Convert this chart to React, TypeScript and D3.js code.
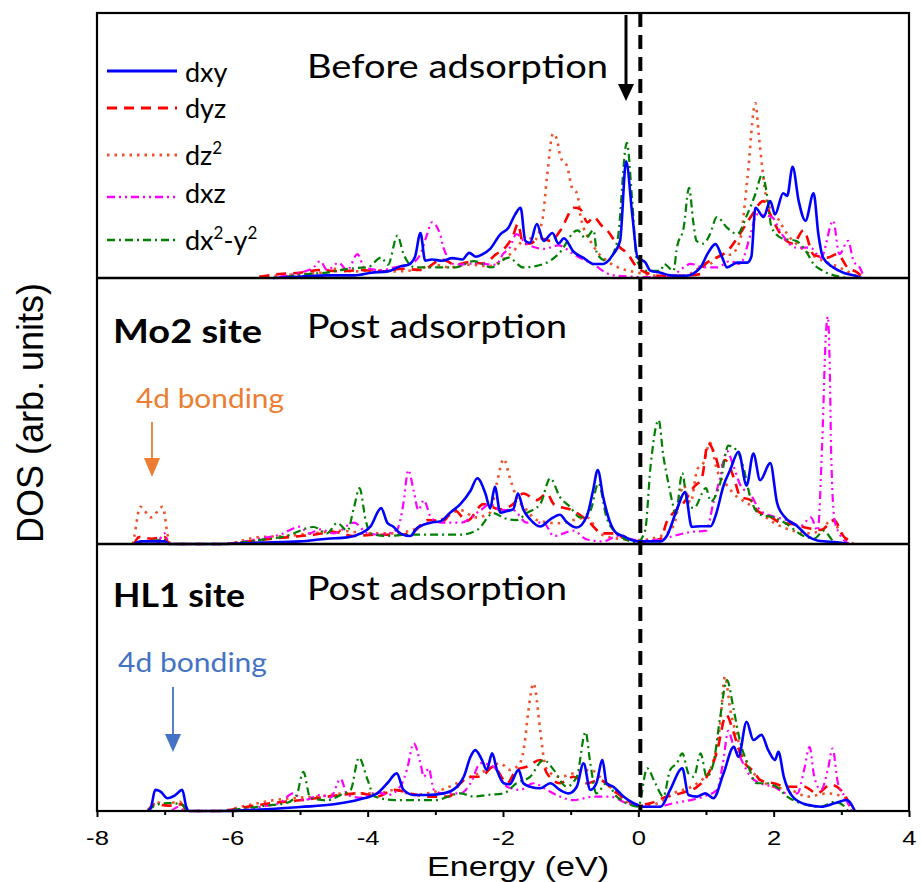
import { useEffect, useRef } from "react";
import * as d3 from "d3";

type Pt = [number, number];

// [energy (eV), DOS (arb. units, 0-100 = full panel height)]
const beforeDxy: Pt[] = [[-5.4,0],[-5.0,0.5],[-4.6,1],[-4.2,1],[-3.95,2],[-3.7,2.5],[-3.5,4.5],[-3.4,5],[-3.3,8],[-3.22,17],[-3.15,6.5],[-3.05,7],[-2.9,6.5],[-2.75,7.5],[-2.6,7],[-2.5,9.5],[-2.4,8],[-2.3,9],[-2.19,11],[-2.04,16.5],[-1.92,19],[-1.82,24],[-1.74,26.5],[-1.67,14],[-1.6,13.3],[-1.5,20.4],[-1.4,14],[-1.27,17],[-1.18,13],[-1.1,15],[-0.96,10],[-0.81,7.6],[-0.66,5.3],[-0.52,5.3],[-0.37,9],[-0.27,14],[-0.18,44],[-0.09,24],[-0.01,7.6],[0.1,6],[0.18,2.7],[0.33,2],[0.47,1],[0.7,0.8],[0.92,4],[1.02,9],[1.14,12.8],[1.24,7.7],[1.31,4],[1.46,5.8],[1.61,5.8],[1.67,8],[1.73,26.5],[1.85,23],[1.95,29],[2.02,24],[2.14,32],[2.2,31],[2.28,42],[2.37,29],[2.47,21.6],[2.59,32],[2.66,16.6],[2.73,7.7],[2.88,4],[3.03,2],[3.24,0.6],[3.3,0]];
const beforeDyz: Pt[] = [[-5.6,0.5],[-5.3,1.5],[-5.0,2],[-4.7,3],[-4.4,2.5],[-4.1,3],[-3.8,2.5],[-3.5,3.5],[-3.2,3],[-2.9,7],[-2.7,5],[-2.5,6],[-2.3,5.5],[-2.1,9],[-1.95,12],[-1.85,16],[-1.78,20.4],[-1.7,12.8],[-1.6,13],[-1.45,15],[-1.3,14],[-1.15,18],[-0.95,26.5],[-0.86,26],[-0.75,21],[-0.66,23],[-0.55,20],[-0.46,18],[-0.35,14],[-0.27,11.5],[-0.17,9.5],[-0.02,4],[0.12,2],[0.33,0.8],[0.6,0.8],[0.92,1.5],[0.96,4.5],[1.16,7.7],[1.31,10],[1.5,16.6],[1.66,23],[1.85,29],[1.95,24],[2.1,16.6],[2.29,13],[2.44,18],[2.59,8.8],[2.79,7.7],[2.94,9],[3.09,4],[3.24,2],[3.32,0]];
const beforeDz2: Pt[] = [[-5.6,0.5],[-5.3,1],[-5.0,1.5],[-4.7,2],[-4.5,3.5],[-4.2,2.5],[-3.9,3],[-3.6,2.5],[-3.3,3],[-3.0,5],[-2.8,4],[-2.5,5],[-2.2,4.5],[-2.0,7],[-1.85,10],[-1.75,13],[-1.64,16],[-1.55,14],[-1.42,21.6],[-1.35,38],[-1.26,54.5],[-1.2,52],[-1.15,45.6],[-1.05,42],[-0.98,34],[-0.9,31.7],[-0.86,24],[-0.81,19],[-0.71,14],[-0.61,10],[-0.46,6.4],[-0.3,4],[-0.1,2.5],[0.1,1.5],[0.4,0.5],[0.7,1],[0.92,4],[1.1,6],[1.2,8.8],[1.36,8.8],[1.5,14],[1.61,37],[1.73,66],[1.78,54],[1.83,42],[1.9,29],[2.05,23],[2.2,16.6],[2.4,11.5],[2.63,7.7],[2.97,4],[3.28,0]];
const beforeDxz: Pt[] = [[-5.3,0.5],[-5.0,2],[-4.8,4],[-4.7,6.4],[-4.6,3],[-4.43,5.7],[-4.3,3],[-4.15,9],[-4.05,4],[-3.8,3],[-3.6,4],[-3.37,5.3],[-3.22,9],[-3.12,16.6],[-3.05,21],[-2.93,16.6],[-2.88,11.5],[-2.7,5],[-2.4,5.5],[-2.1,5],[-2.0,9],[-1.9,11.5],[-1.8,16.6],[-1.66,13],[-1.4,11],[-1.18,12.3],[-0.96,9],[-0.66,5],[-0.4,1.2],[-0.1,0.5],[0.2,0.3],[0.47,0.5],[0.67,4],[0.77,5.3],[0.96,4],[1.16,4],[1.36,6.4],[1.5,5.3],[1.66,16.6],[1.75,24],[1.97,23],[2.12,16.6],[2.33,11.5],[2.54,11.5],[2.7,7.7],[2.88,21.6],[2.97,9],[3.1,14],[3.18,6.4],[3.27,4],[3.34,0]];
const beforeDx2y2: Pt[] = [[-5.2,0.5],[-4.9,1.5],[-4.6,2],[-4.4,3],[-4.15,3.8],[-4.0,4],[-3.8,7.7],[-3.7,5],[-3.56,16],[-3.47,9],[-3.3,4],[-3.0,4],[-2.7,4],[-2.43,6.4],[-2.17,4],[-1.92,7.7],[-1.7,4],[-1.4,5.3],[-1.18,9],[-0.9,18],[-0.78,15],[-0.66,18],[-0.61,9],[-0.46,6.4],[-0.31,14],[-0.17,51],[-0.09,29],[-0.02,6.4],[0.13,2.7],[0.33,2.7],[0.38,5.3],[0.52,2.7],[0.57,11.5],[0.67,19],[0.75,34],[0.81,21.6],[0.86,14],[0.96,13],[1.06,16.6],[1.16,23],[1.31,19],[1.46,16.6],[1.61,24],[1.73,31.7],[1.83,39],[1.9,31.7],[1.97,19],[2.12,15],[2.33,14],[2.48,10],[2.59,5.3],[2.73,2.7],[2.97,0.5],[3.1,0]];

const mo2Dxy: Pt[] = [[-7.45,0],[-7.35,1],[-7.0,1],[-6.93,0],[-6.15,0],[-5.6,0.5],[-5.0,1],[-4.6,2],[-4.3,2.5],[-4.1,4],[-3.96,6.5],[-3.8,13.5],[-3.71,8],[-3.62,6.5],[-3.52,4],[-3.37,3],[-3.27,6],[-3.07,8],[-2.92,8.6],[-2.78,11.8],[-2.63,15],[-2.48,20],[-2.38,24.7],[-2.26,19],[-2.19,13.4],[-2.12,21.5],[-2.04,11.8],[-1.94,12.4],[-1.85,13],[-1.78,19],[-1.7,13],[-1.6,9.3],[-1.45,6.6],[-1.3,9.3],[-1.16,11],[-1.06,8.3],[-0.91,6.2],[-0.76,10.5],[-0.67,20],[-0.6,27.8],[-0.52,17.7],[-0.42,8.3],[-0.32,4],[-0.22,3],[-0.12,1.7],[0.0,1],[0.33,1],[0.42,3],[0.57,13],[0.69,19.5],[0.79,6.4],[0.92,6.7],[1.07,6.7],[1.14,10.5],[1.26,22],[1.36,28],[1.48,34.7],[1.6,22],[1.7,34],[1.8,24],[1.95,30.4],[2.05,15.5],[2.15,10.5],[2.35,6.7],[2.5,3],[2.66,1.2],[3.0,0.5],[3.1,0]];
const mo2Dyz: Pt[] = [[-7.45,0],[-7.38,2.6],[-7.2,2],[-7.0,2.6],[-6.93,0],[-6.15,0],[-5.6,1.5],[-5.2,2.5],[-4.8,3.5],[-4.5,4.5],[-4.2,3],[-3.9,3.5],[-3.5,3.5],[-3.3,5],[-3.12,9],[-2.88,8.7],[-2.73,13],[-2.53,8.7],[-2.29,15],[-2.04,13],[-1.85,15],[-1.7,19],[-1.5,16.5],[-1.35,19],[-1.25,15],[-0.96,12.5],[-0.76,9],[-0.52,4],[-0.37,4],[-0.15,1.5],[0.1,1],[0.33,2],[0.42,8.3],[0.52,11.8],[0.67,15.5],[0.82,21.4],[0.94,25],[1.03,38],[1.14,33],[1.21,27.8],[1.28,31.6],[1.41,25],[1.51,17.7],[1.66,16.5],[1.75,12.7],[1.95,10.3],[2.1,8],[2.3,7.4],[2.5,6],[2.7,5.3],[2.89,9],[3.03,3],[3.18,0]];
const mo2Dz2: Pt[] = [[-7.47,0],[-7.45,2.6],[-7.36,14],[-7.2,10],[-7.03,14],[-6.95,2.6],[-6.92,0],[-6.15,0],[-5.6,2.6],[-5.2,3],[-4.8,4],[-4.4,5],[-4.0,4],[-3.6,4],[-3.37,5],[-3.1,8],[-2.88,9.5],[-2.63,12.7],[-2.4,10],[-2.19,11.8],[-2.09,23],[-1.99,32],[-1.9,25],[-1.8,17.7],[-1.65,12.7],[-1.5,9],[-1.16,7.8],[-0.96,9],[-0.76,10],[-0.57,4],[-0.3,2],[0.0,1.5],[0.33,3],[0.52,6.8],[0.67,22],[0.77,15.5],[0.87,28],[0.96,30.4],[1.06,38],[1.16,28],[1.31,22],[1.46,17.7],[1.6,15.5],[1.8,11.8],[2.0,8],[2.25,5.3],[2.5,4],[2.7,5],[2.85,9],[3.0,4],[3.18,0]];
const mo2Dxz: Pt[] = [[-7.1,0],[-7.0,4],[-6.93,0],[-6.15,0],[-5.6,2],[-5.3,3.5],[-5.0,6.5],[-4.87,4],[-4.7,5.5],[-4.5,4],[-4.2,8],[-4.0,4],[-3.8,3.5],[-3.57,5.3],[-3.47,15.5],[-3.4,27.8],[-3.32,20],[-3.25,12.7],[-3.17,16.5],[-3.07,10.3],[-2.92,8],[-2.63,8],[-2.33,12.7],[-2.19,15],[-2.04,12.7],[-1.85,12.7],[-1.65,8],[-1.4,8],[-1.25,3],[-0.96,5],[-0.76,1.7],[-0.52,1],[-0.3,3],[-0.02,1.5],[0.3,1.5],[0.52,3],[0.77,4.5],[1.0,5],[1.11,15.5],[1.21,25],[1.31,35],[1.41,29],[1.51,22],[1.66,18.5],[1.8,12.7],[2.0,10.3],[2.2,9],[2.4,6.8],[2.55,10],[2.65,5],[2.72,40],[2.77,78],[2.8,85.5],[2.83,65],[2.85,34],[2.9,9],[2.97,4],[3.12,0]];
const mo2Dx2y2: Pt[] = [[-7.45,0],[-7.3,1],[-7.0,1.5],[-6.93,0],[-6.15,0],[-5.6,1.5],[-5.2,3],[-4.8,6.4],[-4.6,4],[-4.45,7.9],[-4.3,5],[-4.2,14],[-4.12,21],[-4.03,9],[-3.96,4],[-3.72,3],[-3.4,3.5],[-3.0,3.5],[-2.63,3.5],[-2.38,5.3],[-2.14,11.6],[-1.99,9.8],[-1.8,9],[-1.65,11.6],[-1.45,15],[-1.3,24.7],[-1.16,17.7],[-1.01,14],[-0.86,10],[-0.71,12.5],[-0.59,22.8],[-0.47,10],[-0.32,4],[-0.17,1.5],[-0.02,0.5],[0.1,5],[0.18,29],[0.3,46.6],[0.37,33],[0.42,26],[0.5,16],[0.55,11],[0.65,26.7],[0.72,16],[0.82,13.5],[1.0,21],[1.07,16],[1.21,23],[1.33,37],[1.46,35],[1.56,28],[1.65,18],[1.8,11],[2.0,10],[2.2,7.4],[2.4,3.6],[2.6,2],[2.74,5],[2.89,1],[3.1,0]];

const hl1Dxy: Pt[] = [[-7.24,0],[-7.2,1.5],[-7.14,7.9],[-7.06,7.3],[-6.96,4.8],[-6.84,6],[-6.74,7.9],[-6.68,1.5],[-6.64,0],[-6.2,0],[-5.6,0.5],[-5.0,1.5],[-4.5,2.5],[-4.1,4.5],[-3.86,6.6],[-3.71,10.4],[-3.57,14.1],[-3.47,7.9],[-3.32,6],[-3.12,6],[-2.88,6.6],[-2.68,9.1],[-2.58,12.8],[-2.48,20.3],[-2.41,22.8],[-2.31,19.1],[-2.24,15.4],[-2.16,21.6],[-2.09,15.4],[-1.99,10.4],[-1.9,10],[-1.77,15.4],[-1.7,10.4],[-1.6,9.1],[-1.45,8.5],[-1.3,10.4],[-1.16,7.9],[-1.03,6.6],[-0.91,9.1],[-0.81,17.9],[-0.71,7.9],[-0.62,10.4],[-0.53,19.1],[-0.47,10.4],[-0.37,9.1],[-0.22,5.4],[-0.07,2.9],[0.08,1.6],[0.33,1.6],[0.47,7.9],[0.65,16],[0.74,6],[0.87,5.4],[0.99,6.6],[1.11,4.8],[1.26,14.1],[1.41,24],[1.48,20.3],[1.6,33.4],[1.7,26.6],[1.82,28.5],[1.92,22.8],[2.02,19.1],[2.07,22.2],[2.15,12.8],[2.3,4.8],[2.5,2.3],[2.7,1.6],[2.9,2.9],[3.08,4.1],[3.2,0]];
const hl1Dyz: Pt[] = [[-7.25,0],[-7.15,2.5],[-6.95,2],[-6.75,2.5],[-6.65,0],[-6.2,0],[-5.8,1.5],[-5.4,3],[-5.0,4],[-4.7,5],[-4.4,6],[-4.1,6.6],[-3.86,5.4],[-3.6,7.9],[-3.37,6.6],[-3.1,5.4],[-2.8,5.4],[-2.63,10.4],[-2.48,12.8],[-2.33,12.8],[-2.14,16.6],[-1.94,10.4],[-1.8,15.4],[-1.65,16.6],[-1.45,19.1],[-1.35,14.1],[-1.16,10.4],[-0.96,12.8],[-0.76,10.4],[-0.57,11.6],[-0.37,7.9],[-0.17,4.1],[0.0,2.3],[0.18,2.9],[0.42,5.4],[0.62,6.6],[0.87,9.1],[1.01,12.8],[1.16,22],[1.3,36],[1.4,30],[1.5,22],[1.6,17],[1.7,15],[1.8,11.6],[2.0,10.4],[2.2,9.1],[2.45,9.1],[2.64,6.6],[2.84,9.8],[2.99,7.9],[3.09,4.1],[3.15,0]];
const hl1Dz2: Pt[] = [[-7.25,0],[-7.15,3.5],[-7.0,2.5],[-6.78,3.5],[-6.68,0],[-6.2,0],[-5.8,2],[-5.4,4],[-5.0,5],[-4.7,5.5],[-4.4,6.5],[-4.1,6.6],[-3.86,6.6],[-3.6,7.9],[-3.3,6],[-3.12,6.6],[-2.9,8],[-2.68,10.4],[-2.48,12.8],[-2.24,15.4],[-2.04,17.9],[-1.9,15.4],[-1.75,17.9],[-1.68,25.4],[-1.63,36.5],[-1.55,47.8],[-1.45,30.3],[-1.4,20.3],[-1.35,15.4],[-1.16,12.8],[-0.96,14.1],[-0.71,15.4],[-0.52,11.6],[-0.32,6.6],[-0.17,3.5],[0.1,2],[0.3,3],[0.52,6.6],[0.87,10.4],[1.06,15.4],[1.21,32.8],[1.28,50.3],[1.36,37.8],[1.46,27.8],[1.61,17.9],[1.75,12.8],[2.0,9.1],[2.25,7.9],[2.5,5.4],[2.8,6.6],[3.1,4.1],[3.15,0]];
const hl1Dxz: Pt[] = [[-6.9,0],[-6.8,1.5],[-6.7,0],[-6.0,0],[-5.6,1.5],[-5.3,3],[-5.1,6.6],[-4.95,4],[-4.7,6],[-4.55,5],[-4.4,12],[-4.3,6],[-4.1,5],[-3.85,7],[-3.7,6],[-3.52,9.1],[-3.42,15.4],[-3.32,25.4],[-3.22,17.9],[-3.17,12.8],[-3.1,16],[-3.02,7.9],[-2.9,6.6],[-2.63,6.6],[-2.48,10.4],[-2.33,17.9],[-2.14,16.6],[-1.94,9.1],[-1.75,7.9],[-1.55,10.4],[-1.35,7.9],[-1.16,5.4],[-0.96,4.1],[-0.66,5.4],[-0.42,5.4],[-0.17,2.9],[0.08,1.6],[0.27,1.6],[0.52,2.9],[0.77,4.1],[0.97,5.4],[1.16,7.9],[1.25,17.9],[1.33,30],[1.4,25],[1.5,20.3],[1.66,12.8],[1.8,10.4],[2.0,9.1],[2.2,6.6],[2.35,6.6],[2.45,15.4],[2.53,24],[2.6,12.8],[2.7,7.9],[2.8,15.4],[2.87,23.4],[2.95,10.4],[3.05,5.4],[3.15,0]];
const hl1Dx2y2: Pt[] = [[-7.25,0],[-7.1,2.5],[-6.95,3],[-6.75,2.5],[-6.65,0],[-6.2,0],[-5.8,1],[-5.5,2],[-5.2,3],[-5.05,6],[-4.95,14.7],[-4.85,5],[-4.6,4],[-4.4,6],[-4.25,8],[-4.13,20],[-4.0,11.6],[-3.9,5.4],[-3.6,4.1],[-3.0,4.1],[-2.63,6.6],[-2.43,5.4],[-2.24,6],[-1.99,6.6],[-1.8,10.4],[-1.6,12.8],[-1.4,19.1],[-1.25,15.4],[-1.06,9.1],[-0.91,12.8],[-0.78,29.6],[-0.71,17.9],[-0.62,6.6],[-0.47,10.4],[-0.32,5.4],[-0.17,2.9],[0.0,1.6],[0.13,16],[0.25,10.4],[0.37,5.4],[0.47,15.4],[0.57,17.9],[0.65,21.6],[0.74,14.1],[0.82,12.8],[0.92,21.6],[1.01,12.8],[1.11,17.9],[1.21,35.3],[1.31,49],[1.41,37.8],[1.51,25.4],[1.61,17.9],[1.75,10.4],[1.9,10.4],[2.04,9.1],[2.2,5.4],[2.4,2.9],[2.7,1.6],[2.9,3.5],[3.05,1.6],[3.1,0]];

const xTicks = [-8, -6, -4, -2, 0, 2, 4];
const xMinorTicks = [-7, -5, -3, -1, 1, 3];

type Key = "dxy" | "dyz" | "dz2" | "dxz" | "dx2y2";
const drawOrder: Key[] = ["dz2", "dyz", "dxz", "dx2y2", "dxy"];

const styles: Record<Key, { color: string; dash: string | null; width: number }> = {
  dxy: { color: "#0000ff", dash: null, width: 2.6 },
  dyz: { color: "#ff0000", dash: "10,7", width: 2.6 },
  dz2: { color: "#f0502a", dash: "2.5,5", width: 2.6 },
  dxz: { color: "#ff00ff", dash: "8,4,2,4,2,4", width: 2.2 },
  dx2y2: { color: "#008000", dash: "8,4,2,4", width: 2.2 },
};

const panels = [
  { title: "Before adsorption", site: "", series: { dxy: beforeDxy, dyz: beforeDyz, dz2: beforeDz2, dxz: beforeDxz, dx2y2: beforeDx2y2 } },
  { title: "Post adsorption", site: "Mo2 site", series: { dxy: mo2Dxy, dyz: mo2Dyz, dz2: mo2Dz2, dxz: mo2Dxz, dx2y2: mo2Dx2y2 } },
  { title: "Post adsorption", site: "HL1 site", series: { dxy: hl1Dxy, dyz: hl1Dyz, dz2: hl1Dz2, dxz: hl1Dxz, dx2y2: hl1Dx2y2 } },
];

const LEFT = 97, RIGHT = 909;
const edges = [13, 278, 544, 811];
const calibri = "Lato, 'Open Sans', sans-serif";
const arial = "'Liberation Sans', Arial, sans-serif";

export default function App() {
  const svgRef = useRef<SVGSVGElement | null>(null);

  useEffect(() => {
    if (!svgRef.current) return;
    const svg = d3.select(svgRef.current);
    svg.selectAll("*").remove();

    const x = d3.scaleLinear().domain([-8, 4]).range([LEFT, RIGHT]);

    // curves
    panels.forEach((p, i) => {
      const y = d3.scaleLinear().domain([0, 100]).range([edges[i + 1], edges[i]]);
      const line = d3.line<Pt>().x((d) => x(d[0])).y((d) => y(d[1])).curve(d3.curveMonotoneX);
      drawOrder.forEach((k) => {
        const s = styles[k];
        svg.append("path")
          .attr("d", line(p.series[k]))
          .attr("fill", "none")
          .attr("stroke", s.color)
          .attr("stroke-width", s.width)
          .attr("stroke-dasharray", s.dash)
          .attr("stroke-linejoin", "round");
      });
    });

    // zero line
    svg.append("line")
      .attr("x1", x(0) + 2).attr("x2", x(0) + 2)
      .attr("y1", edges[0]).attr("y2", edges[3])
      .attr("stroke", "#000").attr("stroke-width", 4).attr("stroke-dasharray", "14,8");

    // frames
    svg.append("rect")
      .attr("x", LEFT).attr("y", edges[0])
      .attr("width", RIGHT - LEFT).attr("height", edges[3] - edges[0])
      .attr("fill", "none").attr("stroke", "#000").attr("stroke-width", 2.2);
    [edges[1], edges[2]].forEach((yy) => {
      svg.append("line").attr("x1", LEFT).attr("x2", RIGHT).attr("y1", yy).attr("y2", yy)
        .attr("stroke", "#000").attr("stroke-width", 2.5);
    });

    // x axis
    const gx = svg.append("g").attr("transform", `translate(0,${edges[3]})`)
      .call(d3.axisBottom(x).tickValues(xTicks).tickSizeInner(6).tickSizeOuter(0).tickPadding(13).tickFormat((d) => String(d)));
    gx.select(".domain").remove();
    gx.selectAll(".tick line").attr("stroke-width", 2);
    gx.selectAll(".tick text")
      .attr("font-family", arial).attr("font-size", 21).attr("fill", "#000")
      .attr("transform", "scale(1.22,1)");
    const gm = svg.append("g").attr("transform", `translate(0,${edges[3]})`)
      .call(d3.axisBottom(x).tickValues(xMinorTicks).tickSizeInner(4).tickSizeOuter(0).tickFormat(() => ""));
    gm.select(".domain").remove();
    gm.selectAll(".tick line").attr("stroke-width", 2);

    svg.append("text")
      .attr("transform", `translate(${(LEFT + RIGHT) / 2 + 15},876) scale(1.22,1)`)
      .attr("text-anchor", "middle").attr("font-family", arial).attr("font-size", 28)
      .text("Energy (eV)");

    svg.append("text")
      .attr("transform", "translate(43,413) rotate(-90)")
      .attr("text-anchor", "middle").attr("font-family", arial).attr("font-size", 36)
      .text("DOS (arb. units)");

    // panel titles
    const titleY = [78, 338, 600];
    panels.forEach((p, i) => {
      svg.append("text").attr("x", 307).attr("y", titleY[i])
        .attr("font-family", calibri).attr("font-size", 32)
        .attr("textLength", i === 0 ? 301 : 260).attr("lengthAdjust", "spacingAndGlyphs")
        .text(p.title);
    });
    const siteY = [0, 343, 607];
    const siteW = [0, 149, 132];
    panels.forEach((p, i) => {
      if (!p.site) return;
      svg.append("text").attr("x", 113).attr("y", siteY[i])
        .attr("font-family", calibri).attr("font-weight", 700).attr("font-size", 32)
        .attr("textLength", siteW[i]).attr("lengthAdjust", "spacingAndGlyphs")
        .text(p.site);
    });

    // annotations
    const arrow = (ax: number, y1: number, tip: number, color: string, lw: number, hw: number, hh: number) => {
      svg.append("line").attr("x1", ax).attr("x2", ax).attr("y1", y1).attr("y2", tip - hh + 2)
        .attr("stroke", color).attr("stroke-width", lw);
      svg.append("path")
        .attr("d", `M${ax},${tip} L${ax - hw},${tip - hh} L${ax + hw},${tip - hh} Z`)
        .attr("fill", color);
    };
    arrow(626, 15, 101, "#000", 3, 8, 17);
    arrow(152, 422, 477, "#ed7d31", 1.8, 8, 19);
    arrow(173, 687, 752, "#4472c4", 1.8, 8, 18);

    svg.append("text").attr("x", 136).attr("y", 408)
      .attr("font-family", calibri).attr("font-size", 27).attr("fill", "#ed7d31")
      .attr("textLength", 148).attr("lengthAdjust", "spacingAndGlyphs").text("4d bonding");
    svg.append("text").attr("x", 118).attr("y", 672)
      .attr("font-family", calibri).attr("font-size", 27).attr("fill", "#4472c4")
      .attr("textLength", 149).attr("lengthAdjust", "spacingAndGlyphs").text("4d bonding");

    // legend
    const legendRows: { key: Key; lineY: number; textY: number; parts: [string, boolean][] }[] = [
      { key: "dxy", lineY: 71, textY: 82, parts: [["dxy", false]] },
      { key: "dyz", lineY: 108, textY: 118, parts: [["dyz", false]] },
      { key: "dz2", lineY: 155, textY: 165, parts: [["dz", false], ["2", true]] },
      { key: "dxz", lineY: 197, textY: 203, parts: [["dxz", false]] },
      { key: "dx2y2", lineY: 240, textY: 250, parts: [["dx", false], ["2", true], ["-y", false], ["2", true]] },
    ];
    legendRows.forEach((r) => {
      const s = styles[r.key];
      svg.append("line").attr("x1", 107).attr("x2", 177).attr("y1", r.lineY).attr("y2", r.lineY)
        .attr("stroke", s.color).attr("stroke-width", s.width + 0.4).attr("stroke-dasharray", s.dash);
      const t = svg.append("text").attr("x", 185).attr("y", r.textY)
        .attr("font-family", calibri).attr("font-size", 27);
      let raised = false;
      r.parts.forEach(([str, sup]) => {
        const ts = t.append("tspan").text(str);
        if (sup && !raised) { ts.attr("dy", -11).attr("font-size", 17); raised = true; }
        else if (sup) { ts.attr("font-size", 17); }
        else if (!sup && raised) { ts.attr("dy", 11); raised = false; }
      });
    });
  }, []);

  return (
    <svg
      ref={svgRef}
      width={921}
      height={882}
      style={{ position: "absolute", left: 0, top: 0, background: "#fff" }}
    />
  );
}
